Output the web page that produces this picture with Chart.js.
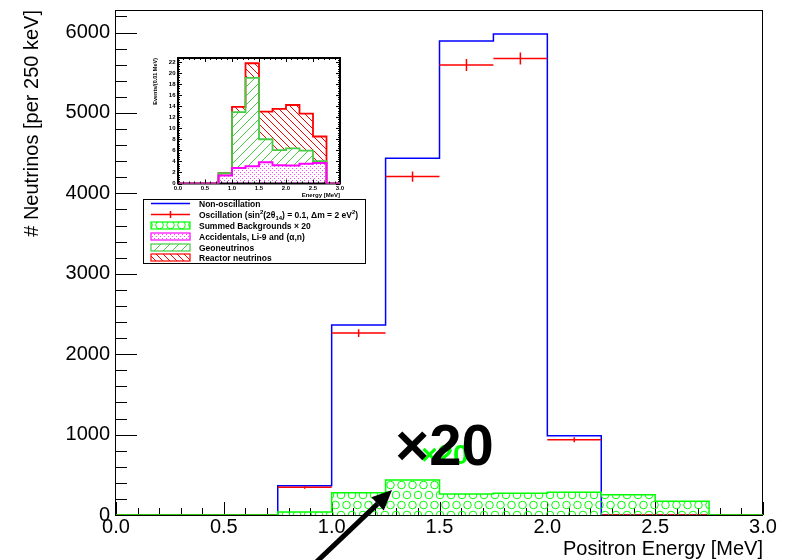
<!DOCTYPE html>
<html>
<head>
<meta charset="utf-8">
<script src="https://cdn.jsdelivr.net/npm/chart.js@4/dist/chart.umd.min.js"></script>
<style>
  body { margin: 0; background: #fff; }
  #wrap { position: relative; width: 789px; height: 560px; overflow: hidden; }
  #mainChart { position: absolute; left: 0; top: 0; }
  #insetChart { position: absolute; left: 140px; top: 40px; }
</style>
</head>
<body>
<div id="wrap">
  <canvas id="mainChart" width="789" height="560"></canvas>
  <canvas id="insetChart" width="225" height="160"></canvas>
</div>
<script>
// Bin edges (250 keV bins) shared by every histogram
const binEdges = [0, 0.25, 0.5, 0.75, 1.0, 1.25, 1.5, 1.75, 2.0, 2.25, 2.5, 2.75, 3.0];

// Main panel, neutrinos per bin
const nonOscillation = [0, 0, 0, 365, 2362, 4436, 5895, 5980, 985, 0, 0, 0];
const oscillation    = [0, 0, 0, 345, 2262, 4208, 5595, 5678, 935, 0, 0, 0];
const oscillationErr = [0, 0, 0, 19, 48, 65, 75, 75, 31, 0, 0, 0];

// Inset, background components in events / (0.01 MeV)
const accidentals  = [0, 0, 0, 1.45, 2.8, 3.1, 3.85, 3.3, 3.25, 3.55, 3.7, 0];
const geoneutrinos = [0, 0, 0, 0.4, 10.1, 16.0, 4.15, 2.75, 3.1, 2.4, 0.35, 0];
const reactorNus   = [0, 0, 0, 0, 0.95, 2.65, 5.0, 7.45, 7.85, 6.7, 4.45, 0];
const bkgScale = 20;

// Tick labels
const xTicks = [0, 0.5, 1.0, 1.5, 2.0, 2.5, 3.0];
const mainYTicks = [0, 1000, 2000, 3000, 4000, 5000, 6000];
const insetYTicks = [0, 2, 4, 6, 8, 10, 12, 14, 16, 18, 20, 22];

const FONT = "'Liberation Sans', Arial, Helvetica, sans-serif";
const GREEN = '#00ff00';
const GEO_GREEN = '#44cc44';

// stacked sums
const geoTop = accidentals.map((a, i) => a + geoneutrinos[i]);
const bkgTotal = geoTop.map((g, i) => g + reactorNus[i]);
const summedBkg = bkgTotal.map(v => v * bkgScale);

function histPoints(values) {
    return binEdges.map((x, i) => ({ x: x, y: values[Math.min(i, values.length - 1)] }));
}

// horizontal bin bars with a vertical error bar in the middle
function errorPoints(values, errs) {
    const pts = [];
    values.forEach((v, i) => {
        const lo = binEdges[i], hi = binEdges[i + 1], mid = (lo + hi) / 2;
        pts.push({ x: lo, y: v }, { x: hi, y: v }, { x: hi, y: null });
        if (errs[i] > 0) {
            pts.push({ x: mid, y: v - errs[i] }, { x: mid, y: v + errs[i] }, { x: mid, y: null });
        }
    });
    return pts;
}

function makePattern(w, h, draw) {
    const c = document.createElement('canvas');
    c.width = w;
    c.height = h;
    const g = c.getContext('2d');
    draw(g);
    return g.createPattern(c, 'repeat');
}

const circlePattern = makePattern(11, 20, g => {
    g.strokeStyle = GREEN;
    g.lineWidth = 1;
    [[5.5, 5], [0, 15], [11, 15]].forEach(([cx, cy]) => {
        g.beginPath();
        g.arc(cx, cy, 3.8, 0, Math.PI * 2);
        g.stroke();
    });
});

const dotPattern = makePattern(4, 4, g => {
    g.fillStyle = 'rgba(255, 0, 255, 0.75)';
    g.fillRect(0, 0, 1, 1);
    g.fillRect(2, 2, 1, 1);
});

const geoHatch = makePattern(9, 9, g => {
    g.strokeStyle = GEO_GREEN;
    g.lineWidth = 1;
    g.beginPath();
    g.moveTo(-1, 10); g.lineTo(10, -1);
    g.moveTo(-2, 1); g.lineTo(1, -2);
    g.moveTo(8, 11); g.lineTo(11, 8);
    g.stroke();
});

const reactorHatch = makePattern(7, 7, g => {
    g.strokeStyle = '#ff0000';
    g.lineWidth = 1;
    g.beginPath();
    g.moveTo(-1, -1); g.lineTo(8, 8);
    g.moveTo(-2, 6); g.lineTo(1, 9);
    g.moveTo(6, -2); g.lineTo(9, 1);
    g.stroke();
});

// text with super/subscripts: parts = [text, shift] (1 up, -1 down)
function drawRich(ctx, parts, x, y, size) {
    parts.forEach(([t, s]) => {
        const fs = s === 0 ? size : size * 0.7;
        ctx.font = `bold ${fs}px ${FONT}`;
        const dy = s === 1 ? -size * 0.4 : (s === -1 ? size * 0.3 : 0);
        ctx.fillText(t, x, y + dy);
        x += ctx.measureText(t).width;
    });
}

function drawLegend(ctx) {
    const x0 = 143, y0 = 199, w = 222, h = 64;
    ctx.save();
    ctx.fillStyle = '#fff';
    ctx.fillRect(x0, y0, w, h);
    ctx.strokeStyle = '#000';
    ctx.lineWidth = 1;
    ctx.strokeRect(x0 + 0.5, y0 + 0.5, w, h);

    const rows = [203.5, 214.5, 225.5, 236.5, 247.5, 257.5];
    const sx0 = 151, sx1 = 190, tx = 199, fs = 8.5;

    // line entries
    ctx.lineWidth = 1.5;
    ctx.strokeStyle = '#0000ff';
    ctx.beginPath(); ctx.moveTo(sx0, rows[0]); ctx.lineTo(sx1, rows[0]); ctx.stroke();
    ctx.strokeStyle = '#ff0000';
    ctx.beginPath();
    ctx.moveTo(sx0, rows[1]); ctx.lineTo(sx1, rows[1]);
    ctx.moveTo(170.5, rows[1] - 3.5); ctx.lineTo(170.5, rows[1] + 3.5);
    ctx.stroke();

    // box entries
    const boxes = [
        [rows[2], GREEN, circlePattern],
        [rows[3], '#ff00ff', dotPattern],
        [rows[4], GEO_GREEN, geoHatch],
        [rows[5], '#ff0000', reactorHatch]
    ];
    boxes.forEach(([cy, col, pat]) => {
        ctx.fillStyle = pat;
        ctx.fillRect(sx0, cy - 3.5, sx1 - sx0, 7);
        ctx.strokeStyle = col;
        ctx.lineWidth = 1.2;
        ctx.strokeRect(sx0, cy - 3.5, sx1 - sx0, 7);
    });

    ctx.fillStyle = '#000';
    ctx.textAlign = 'left';
    ctx.textBaseline = 'alphabetic';
    const texts = [
        [['Non-oscillation', 0]],
        [['Oscillation (sin', 0], ['2', 1], ['(2\u03b8', 0], ['14', -1], [') = 0.1, \u0394m = 2 eV', 0], ['2', 1], [')', 0]],
        [['Summed Backgrounds \u00d7 20', 0]],
        [['Accidentals, Li-9 and (\u03b1,n)', 0]],
        [['Geoneutrinos', 0]],
        [['Reactor neutrinos', 0]]
    ];
    texts.forEach((parts, i) => drawRich(ctx, parts, tx, rows[i] + 3, fs));
    ctx.restore();
}

// frame and inward tick marks for the main panel
const mainFrame = {
    id: 'mainFrame',
    beforeDatasetsDraw(chart) {
        const { ctx, chartArea: a, scales: { x, y } } = chart;
        ctx.save();
        ctx.strokeStyle = '#000';
        ctx.lineWidth = 1;
        ctx.strokeRect(Math.round(a.left) - 0.5, Math.round(a.top) + 0.5, Math.round(a.right - a.left), Math.round(a.bottom - a.top));
        ctx.beginPath();
        for (let k = 0; k <= 31; k++) {
            const py = Math.round(y.getPixelForValue(k * 200)) + 0.5;
            if (py < a.top) break;
            const len = k % 5 === 0 ? 21 : 11;
            ctx.moveTo(a.left, py);
            ctx.lineTo(a.left + len, py);
        }
        for (let k = 0; k <= 30; k++) {
            const px = Math.round(x.getPixelForValue(k / 10)) + 0.5;
            const len = k % 5 === 0 ? 13 : 7;
            ctx.moveTo(px, a.bottom);
            ctx.lineTo(px, a.bottom - len);
        }
        ctx.stroke();
        ctx.restore();
    },
    afterDraw(chart) {
        const { ctx, chartArea: a, scales: { x, y } } = chart;
        ctx.save();
        ctx.fillStyle = '#000';
        ctx.font = `20px ${FONT}`;
        ctx.textAlign = 'right';
        ctx.textBaseline = 'alphabetic';
        ctx.fillText('Positron Energy [MeV]', a.right, 555);
        ctx.translate(38, a.top);
        ctx.rotate(-Math.PI / 2);
        ctx.fillText('# Neutrinos [per 250 keV]', 0, 0);
        ctx.restore();

        drawLegend(ctx);

        // scaled-background marker
        ctx.save();
        ctx.textAlign = 'left';
        ctx.textBaseline = 'alphabetic';
        ctx.fillStyle = GREEN;
        ctx.font = `bold 28px ${FONT}`;
        ctx.fillText('\u00d720', x.getPixelForValue(1.415), y.getPixelForValue(640));
        ctx.fillStyle = '#000';
        ctx.font = `bold 58px ${FONT}`;
        ctx.fillText('\u00d720', x.getPixelForValue(1.295), y.getPixelForValue(620));

        // arrow pointing at the 1.25-1.5 MeV background bin
        const tipX = x.getPixelForValue(1.28), tipY = y.getPixelForValue(310);
        const dx = -0.725, dy = 0.689;
        const baseX = tipX + dx * 20, baseY = tipY + dy * 20;
        ctx.strokeStyle = '#000';
        ctx.lineWidth = 5;
        ctx.beginPath();
        ctx.moveTo(baseX, baseY);
        ctx.lineTo(baseX + dx * 110, baseY + dy * 110);
        ctx.stroke();
        ctx.beginPath();
        ctx.moveTo(tipX, tipY);
        ctx.lineTo(baseX - dy * 9, baseY + dx * 9);
        ctx.lineTo(baseX + dy * 9, baseY - dx * 9);
        ctx.closePath();
        ctx.fill();
        ctx.restore();
    }
};

// keep the plot box fixed: drop the label overhang Chart.js reserves
function fixHorizontal(height) {
    return s => { s.height = height; s.paddingLeft = 0; s.paddingRight = 0; };
}
function fixVertical(width) {
    return s => { s.width = width; s.paddingTop = 0; s.paddingBottom = 0; };
}

new Chart(document.getElementById('mainChart'), {
    type: 'line',
    data: {
        datasets: [{
            label: 'Summed Backgrounds x 20',
            data: histPoints(summedBkg),
            stepped: true,
            borderColor: GREEN,
            borderWidth: 1.5,
            backgroundColor: circlePattern,
            fill: 'origin',
            pointRadius: 0,
            order: 0
        }, {
            label: 'Oscillation',
            data: errorPoints(oscillation, oscillationErr),
            borderColor: '#ff0000',
            borderWidth: 1.5,
            pointRadius: 0,
            fill: false,
            spanGaps: false,
            order: 1
        }, {
            label: 'Non-oscillation',
            data: histPoints(nonOscillation),
            stepped: true,
            borderColor: '#0000ff',
            borderWidth: 1.5,
            pointRadius: 0,
            fill: false,
            order: 2
        }]
    },
    options: {
        responsive: false,
        animation: false,
        layout: { padding: { left: 0, top: 10, right: 26, bottom: 0 } },
        plugins: { legend: { display: false }, tooltip: { enabled: false } },
        scales: {
            x: {
                type: 'linear',
                min: 0,
                max: 3,
                grid: { display: false, drawTicks: false },
                border: { display: false },
                afterBuildTicks: s => { s.ticks = xTicks.map(v => ({ value: v })); },
                afterFit: fixHorizontal(45),
                ticks: {
                    padding: 0,
                    color: '#000',
                    autoSkip: false,
                    maxRotation: 0,
                    font: { family: FONT, size: 20 },
                    callback: v => v.toFixed(1)
                }
            },
            y: {
                type: 'linear',
                min: 0,
                max: 6280,
                grid: { display: false, drawTicks: false },
                border: { display: false },
                afterBuildTicks: s => { s.ticks = mainYTicks.map(v => ({ value: v })); },
                afterFit: fixVertical(116),
                ticks: {
                    padding: 6,
                    color: '#000',
                    autoSkip: false,
                    font: { family: FONT, size: 20 },
                    callback: v => String(v)
                }
            }
        }
    },
    plugins: [mainFrame]
});

// inset frame, ticks on all four sides, axis titles
const insetFrame = {
    id: 'insetFrame',
    beforeDatasetsDraw(chart) {
        const { ctx, chartArea: a } = chart;
        ctx.save();
        ctx.strokeStyle = '#000';
        ctx.lineWidth = 2;
        ctx.strokeRect(a.left, a.top, a.right - a.left, a.bottom - a.top);
        ctx.restore();
    },
    afterDraw(chart) {
        const { ctx, chartArea: a, scales: { x, y } } = chart;
        ctx.save();
        ctx.strokeStyle = '#000';
        ctx.lineWidth = 1;
        ctx.beginPath();
        for (let k = 0; k <= 56; k++) {
            const py = Math.round(y.getPixelForValue(k * 0.4)) + 0.5;
            if (py < a.top) break;
            const len = k % 5 === 0 ? 4 : 2;
            ctx.moveTo(a.left, py); ctx.lineTo(a.left + len, py);
            ctx.moveTo(a.right, py); ctx.lineTo(a.right - len, py);
        }
        for (let k = 0; k <= 30; k++) {
            const px = Math.round(x.getPixelForValue(k / 10)) + 0.5;
            const len = k % 5 === 0 ? 4 : 2;
            ctx.moveTo(px, a.bottom); ctx.lineTo(px, a.bottom - len);
            ctx.moveTo(px, a.top); ctx.lineTo(px, a.top + len);
        }
        ctx.stroke();

        ctx.fillStyle = '#000';
        ctx.font = `bold 6px ${FONT}`;
        ctx.textAlign = 'right';
        ctx.textBaseline = 'alphabetic';
        ctx.fillText('Energy [MeV]', a.right, 157);
        ctx.font = `bold 5.5px ${FONT}`;
        ctx.translate(16.5, a.top);
        ctx.rotate(-Math.PI / 2);
        ctx.fillText('Events/(0.01 MeV)', 0, 0);
        ctx.restore();
    }
};

const insetTickFont = { family: FONT, size: 6, weight: 'bold' };

new Chart(document.getElementById('insetChart'), {
    type: 'line',
    data: {
        datasets: [{
            label: 'Reactor neutrinos',
            data: histPoints(bkgTotal),
            stepped: true,
            borderColor: '#ff0000',
            borderWidth: 1.8,
            backgroundColor: reactorHatch,
            fill: 1,
            pointRadius: 0,
            order: 2
        }, {
            label: 'Geoneutrinos',
            data: histPoints(geoTop),
            stepped: true,
            borderColor: GEO_GREEN,
            borderWidth: 1.8,
            backgroundColor: geoHatch,
            fill: 2,
            pointRadius: 0,
            order: 1
        }, {
            label: 'Accidentals, Li-9 and (a,n)',
            data: histPoints(accidentals),
            stepped: true,
            borderColor: '#ff00ff',
            borderWidth: 2,
            backgroundColor: dotPattern,
            fill: 'origin',
            pointRadius: 0,
            order: 0
        }]
    },
    options: {
        responsive: false,
        animation: false,
        layout: { padding: { left: 0, top: 18, right: 25, bottom: 0 } },
        plugins: { legend: { display: false }, tooltip: { enabled: false } },
        scales: {
            x: {
                type: 'linear',
                min: 0,
                max: 3,
                grid: { display: false, drawTicks: false },
                border: { display: false },
                afterBuildTicks: s => { s.ticks = xTicks.map(v => ({ value: v })); },
                afterFit: fixHorizontal(16.5),
                ticks: {
                    padding: 1,
                    color: '#000',
                    autoSkip: false,
                    maxRotation: 0,
                    font: insetTickFont,
                    callback: v => v.toFixed(1)
                }
            },
            y: {
                type: 'linear',
                min: 0,
                max: 22.7,
                grid: { display: false, drawTicks: false },
                border: { display: false },
                afterBuildTicks: s => { s.ticks = insetYTicks.map(v => ({ value: v })); },
                afterFit: fixVertical(38),
                ticks: {
                    padding: 2.5,
                    color: '#000',
                    autoSkip: false,
                    font: insetTickFont,
                    callback: v => String(v)
                }
            }
        }
    },
    plugins: [insetFrame]
});
</script>
</body>
</html>
